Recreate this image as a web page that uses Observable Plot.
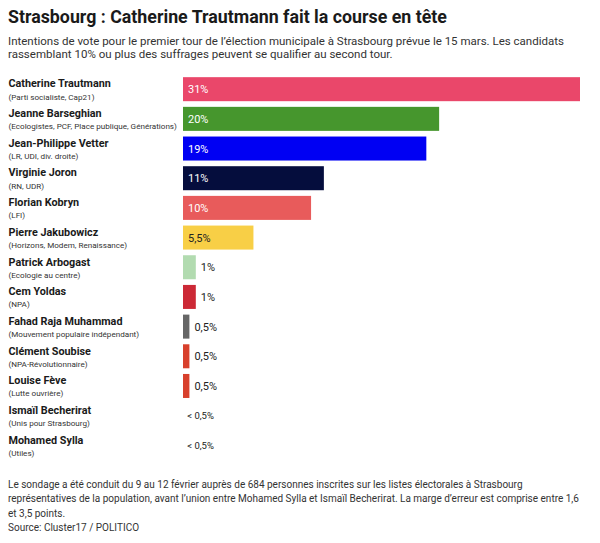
<!DOCTYPE html>
<html><head><meta charset="utf-8">
<script src="https://cdn.jsdelivr.net/npm/d3@7"></script>
<script src="https://cdn.jsdelivr.net/npm/@observablehq/plot@0.6"></script>
<style>
body{margin:0;background:#fff;font-family:Roboto,sans-serif;color:#222}
#wrap{width:600px}
h1{font-size:17.8px;font-weight:700;margin:0;padding:7px 0 0 8px;line-height:20px;color:#1a1a1a;white-space:nowrap}
.sub{font-size:11.5px;line-height:13px;margin:8px 0 0 8px;color:#333;white-space:nowrap}
#chart{margin-top:9px;height:398px}
#chart svg{display:block}
.foot{font-size:10px;line-height:14.3px;margin:10px 0 0 8px;color:#333;white-space:nowrap}
</style></head>
<body><div id="wrap">
<h1>Strasbourg : Catherine Trautmann fait la course en tête</h1>
<div class="sub">Intentions de vote pour le premier tour de l’élection municipale à Strasbourg prévue le 15 mars. Les candidats<br>rassemblant 10% ou plus des suffrages peuvent se qualifier au second tour.</div>
<div id="chart"></div>
<div class="foot">Le sondage a été conduit du 9 au 12 février auprès de 684 personnes inscrites sur les listes électorales à Strasbourg<br>représentatives de la population, avant l’union entre Mohamed Sylla et Ismaïl Becherirat. La marge d’erreur est comprise entre 1,6<br>et 3,5 points.<br>Source: Cluster17 / POLITICO</div>
</div>
<script>
const candidates = ["Catherine Trautmann","Jeanne Barseghian","Jean-Philippe Vetter","Virginie Joron","Florian Kobryn","Pierre Jakubowicz","Patrick Arbogast","Cem Yoldas","Fahad Raja Muhammad","Clément Soubise","Louise Fève","Ismaïl Becherirat","Mohamed Sylla"];
const parties = ["(Parti socialiste, Cap21)","(Ecologistes, PCF, Place publique, Générations)","(LR, UDI, div. droite)","(RN, UDR)","(LFI)","(Horizons, Modem, Renaissance)","(Ecologie au centre)","(NPA)","(Mouvement populaire indépendant)","(NPA-Révolutionnaire)","(Lutte ouvrière)","(Unis pour Strasbourg)","(Utiles)"];
const values = [31,20,19,11,10,5.5,1,1,0.5,0.5,0.5,null,null];
const valueLabels = ["31%","20%","19%","11%","10%","5,5%","1%","1%","0,5%","0,5%","0,5%","< 0,5%","< 0,5%"];
const barColors = ["#EA476A","#46962D","#0000F3","#050D3D","#E85B5B","#F8CF46","#B2DBB0","#CC2936","#666666","#D8402C","#D8402C","#cccccc","#cccccc"];

const data = candidates.map((c,i)=>({name:c, party:parties[i], value:values[i], label:valueLabels[i], color:barColors[i]}));
const bars = data.filter(d=>d.value!=null);
const inside = bars.filter(d=>d.value>=5);
const insideLight = inside.filter(d=>d3.lab(d.color).l<70);
const insideDark = inside.filter(d=>d3.lab(d.color).l>=70);
const outside = bars.filter(d=>d.value<5);
const none = data.filter(d=>d.value==null);

const chart = Plot.plot({
  width:600, height:398,
  marginLeft:183, marginRight:20, marginTop:1.5, marginBottom:5,
  x:{domain:[0,31], axis:null},
  y:{domain:candidates, padding:0.191, round:false, axis:null},
  color:{domain:candidates, range:barColors},
  style:{fontFamily:"Roboto, sans-serif", background:"transparent"},
  marks:[
    Plot.barX(bars, {x:"value", y:"name", fill:"name"}),
    Plot.text(data, {y:"name", text:"name", frameAnchor:"left", dx:-175, dy:-5.7, textAnchor:"start", fontWeight:"bold", fontSize:10.8, fill:"#1a1a1a"}),
    Plot.text(data, {y:"name", text:"party", frameAnchor:"left", dx:-175, dy:7.3, textAnchor:"start", fontSize:8.1, fill:"#333"}),
    Plot.text(insideLight, {x:0, y:"name", text:"label", dx:4.5, textAnchor:"start", fill:"#fff", fontSize:11}),
    Plot.text(insideDark, {x:0, y:"name", text:"label", dx:4.5, textAnchor:"start", fill:"#222", fontSize:11}),
    Plot.text(outside, {x:"value", y:"name", text:"label", dx:4.5, textAnchor:"start", fill:"#222", fontSize:11}),
    Plot.text(none, {x:0, y:"name", text:"label", dx:3.7, textAnchor:"start", fill:"#222", fontSize:9.5})
  ]
});
document.getElementById("chart").appendChild(chart);
</script>
</body></html>
